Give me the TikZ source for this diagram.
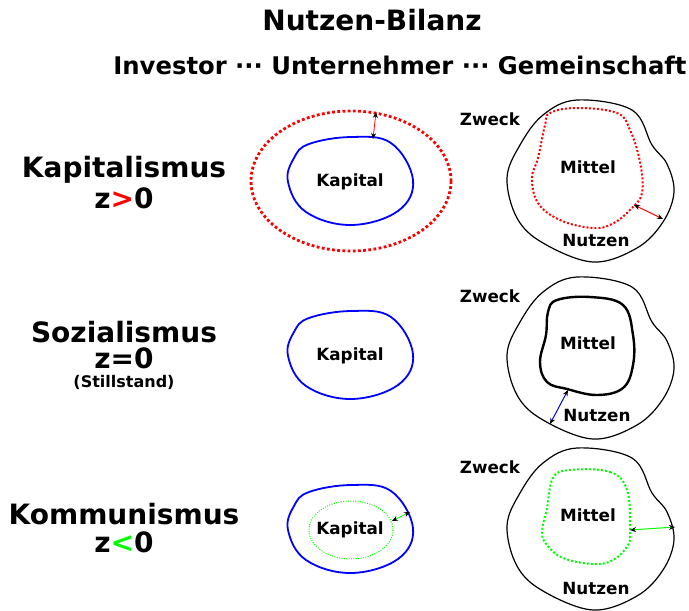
\documentclass[tikz,border=0pt]{standalone}
\usepackage{fontspec}
\setmainfont{DejaVu Sans}
\usetikzlibrary{arrows.meta}
\definecolor{pred}{RGB}{255,0,0}
\definecolor{pblue}{RGB}{0,0,255}
\definecolor{pgreen}{RGB}{0,255,0}
\tikzset{
  lbl/.style={font=\bfseries\fontsize{16.8}{19}\selectfont, inner sep=0pt},
  big/.style={font=\bfseries\fontsize{28}{31}\selectfont, inner sep=0pt, align=center},
  kapblob/.style={draw=pblue, line width=1.8pt},
  outblob/.style={draw=black, line width=1.2pt},
  reddots/.style={draw=pred, line width=2.8pt, dash pattern=on 2.8pt off 2.4pt},
  smallreddots/.style={draw=pred, line width=2pt, dash pattern=on 2pt off 2pt},
  greendots/.style={draw=pgreen, line width=2pt, dash pattern=on 2pt off 2pt},
  thingreen/.style={draw=pgreen, line width=1pt, dash pattern=on 1pt off 1.4pt},
  dbl/.style={line width=1pt, {Stealth[color=black,length=6pt,width=5pt]}-{Stealth[color=black,length=6pt,width=5pt]}},
}
\begin{document}
\begin{tikzpicture}[x=1pt,y=-1pt]
\useasboundingbox (0,0) rectangle (689,611);
% titles
\node[font=\bfseries\fontsize{28}{31}\selectfont, inner sep=0pt] (title) at (372,20) {Nutzen-Bilanz};
\node[font=\bfseries\fontsize{24.3}{27}\selectfont, inner sep=0pt] (sub) at (400,65) {Investor ··· Unternehmer ··· Gemeinschaft};
% left labels
\node[big] (kap) at (124,170) {Kapitalismus};
\node[big] (kapz) at (124,198) {z\textcolor{pred}{>}0};
\node[big] (soz) at (124,332) {Sozialismus};
\node[big] (sozz) at (124,358) {z=0};
\node[font=\bfseries\fontsize{16}{18}\selectfont, inner sep=0pt] (still) at (124,382) {(Stillstand)};
\node[big] (kom) at (124,514) {Kommunismus};
\node[big] (komz) at (124,542) {z\textcolor{pgreen}{<}0};

% ---- middle column: Kapital
\draw[reddots] (351,181) ellipse [x radius=100, y radius=70];
\foreach \cy/\nm in {182/a,356/b,530/c}{
  \draw[kapblob, shift={(351,\cy)}] plot[smooth cycle, tension=0.65] coordinates {
    (-42,-38) (0,-45) (40,-39) (62,-2) (47,29) (0,43) (-45,30) (-63,0) (-57,-24)};
  \node[lbl] (kapital\nm) at (350,\cy) {Kapital};
}
\coordinate (ra1) at (376,112);
\coordinate (ra2) at (373,139);
\draw[dbl, pred, line width=0.8pt] (ra1) -- (ra2);
\draw[thingreen] (351,530) ellipse [x radius=42, y radius=29];
\coordinate (ga1) at (392,521);
\coordinate (ga2) at (410,512);
\draw[dbl, pgreen, line width=0.8pt] (ga1) -- (ga2);

% ---- right column
\foreach \cy/\nm in {180/a,357/b,528/c}{
  \draw[outblob, shift={(590,\cy)}] plot[smooth cycle, tension=0.6] coordinates {
    (-47,-65) (-13,-80) (42,-70) (62,-35) (77,-16) (84,12) (73,42) (47,68) (3,82) (-47,63) (-73,38) (-83,-2) (-70,-35)};
  \node[lbl] (zweck\nm) at (490,\cy-61) {Zweck};
}
% row 1 inner red
\draw[smallreddots] plot[smooth cycle, tension=0.65] coordinates {
  (550,113) (577,108) (617,113) (630,130) (640,162) (642,193) (630,210) (612,224) (592,228) (560,220) (538,203) (532,178) (538,158) (545,125)};
\node[lbl] (mittela) at (588,167) {Mittel};
\node[lbl] (nutzena) at (596,240) {Nutzen};
\coordinate (rb1) at (634,205);
\coordinate (rb2) at (663,219);
\draw[dbl, pred] (rb1) -- (rb2);
% row 2 inner black
\draw[draw=black, line width=2.4pt] plot[smooth cycle, tension=0.65] coordinates {
  (557,300) (590,297) (623,305) (633,335) (633,365) (623,388) (597,395) (567,389) (547,382) (540,362) (546,335) (548,312)};
\node[lbl] (mittelb) at (588,343) {Mittel};
\node[lbl] (nutzenb) at (597,415) {Nutzen};
\coordinate (ba1) at (568,390);
\coordinate (ba2) at (550,424);
\draw[dbl, pblue] (ba1) -- (ba2);
% row 3 inner green
\draw[greendots] plot[smooth cycle, tension=0.65] coordinates {
  (570,470) (610,472) (627,490) (630,528) (628,545) (613,560) (593,564) (563,558) (547,545) (542,532) (547,508) (553,478)};
\node[lbl] (mittelc) at (588,515) {Mittel};
\node[lbl] (nutzenc) at (596,588) {Nutzen};
\coordinate (gb1) at (630,530);
\coordinate (gb2) at (675,527);
\draw[dbl, pgreen] (gb1) -- (gb2);
\end{tikzpicture}
\end{document}
